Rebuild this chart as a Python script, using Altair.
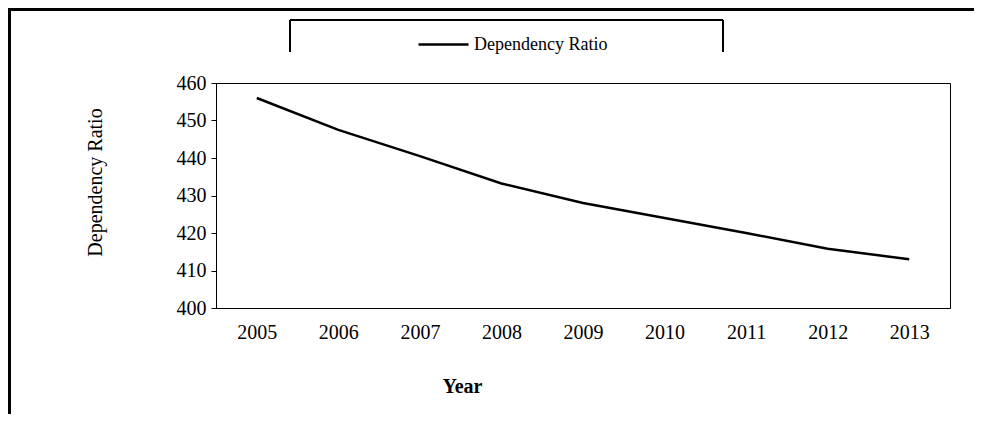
import altair as alt
import pandas as pd

years = ["2005", "2006", "2007", "2008", "2009", "2010", "2011", "2012", "2013"]
ratio = [456.0, 447.5, 440.5, 433.2, 428.0, 424.0, 420.0, 415.8, 413.0]
series_name = "Dependency Ratio"
y_ticks = [400, 410, 420, 430, 440, 450, 460]

df = pd.DataFrame({"Year": years, "Ratio": ratio, "Series": [series_name] * len(years)})

FONT = "Liberation Serif"
W, H = 734, 225

line = alt.Chart(df).mark_line(strokeWidth=2.5).encode(
    x=alt.X("Year:N", sort=years, scale=alt.Scale(paddingInner=0, paddingOuter=0.5),
            axis=alt.Axis(title="Year", labelAngle=0, ticks=False, labelPadding=14,
                          labelFontSize=20, titleFontSize=20, titleFontWeight="bold",
                          titleX=246, titleY=78, titleAlign="center", titleBaseline="middle",
                          domainColor="black", labelColor="black", titleColor="black")),
    y=alt.Y("Ratio:Q", scale=alt.Scale(domain=[400, 460], nice=False, zero=False),
            axis=alt.Axis(title="Dependency Ratio", values=y_ticks, grid=False, tickSize=5,
                          labelPadding=5, labelFontSize=20, titleFontSize=20,
                          titleFontWeight="normal", titleAngle=270, titleX=-121, titleY=99,
                          titleAlign="center", titleBaseline="middle",
                          domainColor="black", tickColor="black",
                          labelColor="black", titleColor="black")),
    color=alt.Color("Series:N", scale=alt.Scale(range=["black"]),
                    legend=alt.Legend(title=None, orient="none", legendX=201, legendY=-65,
                                      symbolType="stroke", symbolSize=2500, symbolStrokeWidth=2.5,
                                      labelFontSize=18, labelFont=FONT, labelColor="black",
                                      labelOffset=4, padding=0)),
)

# Decorative frames: legend box (open at the bottom) and outer chart border
box_top = alt.Chart(df).mark_rule(color="black", strokeWidth=1.5).encode(
    x=alt.value(74), x2=alt.value(507), y=alt.value(-63))
box_left = alt.Chart(df).mark_rule(color="black", strokeWidth=1.5).encode(
    x=alt.value(74), y=alt.value(-63), y2=alt.value(-31))
box_right = alt.Chart(df).mark_rule(color="black", strokeWidth=1.5).encode(
    x=alt.value(507), y=alt.value(-63), y2=alt.value(-31))
outer_top = alt.Chart(df).mark_rule(color="black", strokeWidth=3).encode(
    x=alt.value(-208), x2=alt.value(W + 40), y=alt.value(-74))
outer_left = alt.Chart(df).mark_rule(color="black", strokeWidth=3).encode(
    x=alt.value(-207), y=alt.value(-75), y2=alt.value(H + 120))

chart = alt.layer(outer_top, outer_left, box_top, box_left, box_right, line).properties(
    width=W, height=H,
    autosize=alt.AutoSizeParams(type="none"),
    padding={"left": 208, "top": 75, "right": 24, "bottom": 106},
).configure(
    font=FONT
).configure_view(
    stroke="black", strokeWidth=1
).configure_axis(labelFont=FONT, titleFont=FONT)

chart.save("out.html", embed_options={"renderer": "svg", "actions": False})
